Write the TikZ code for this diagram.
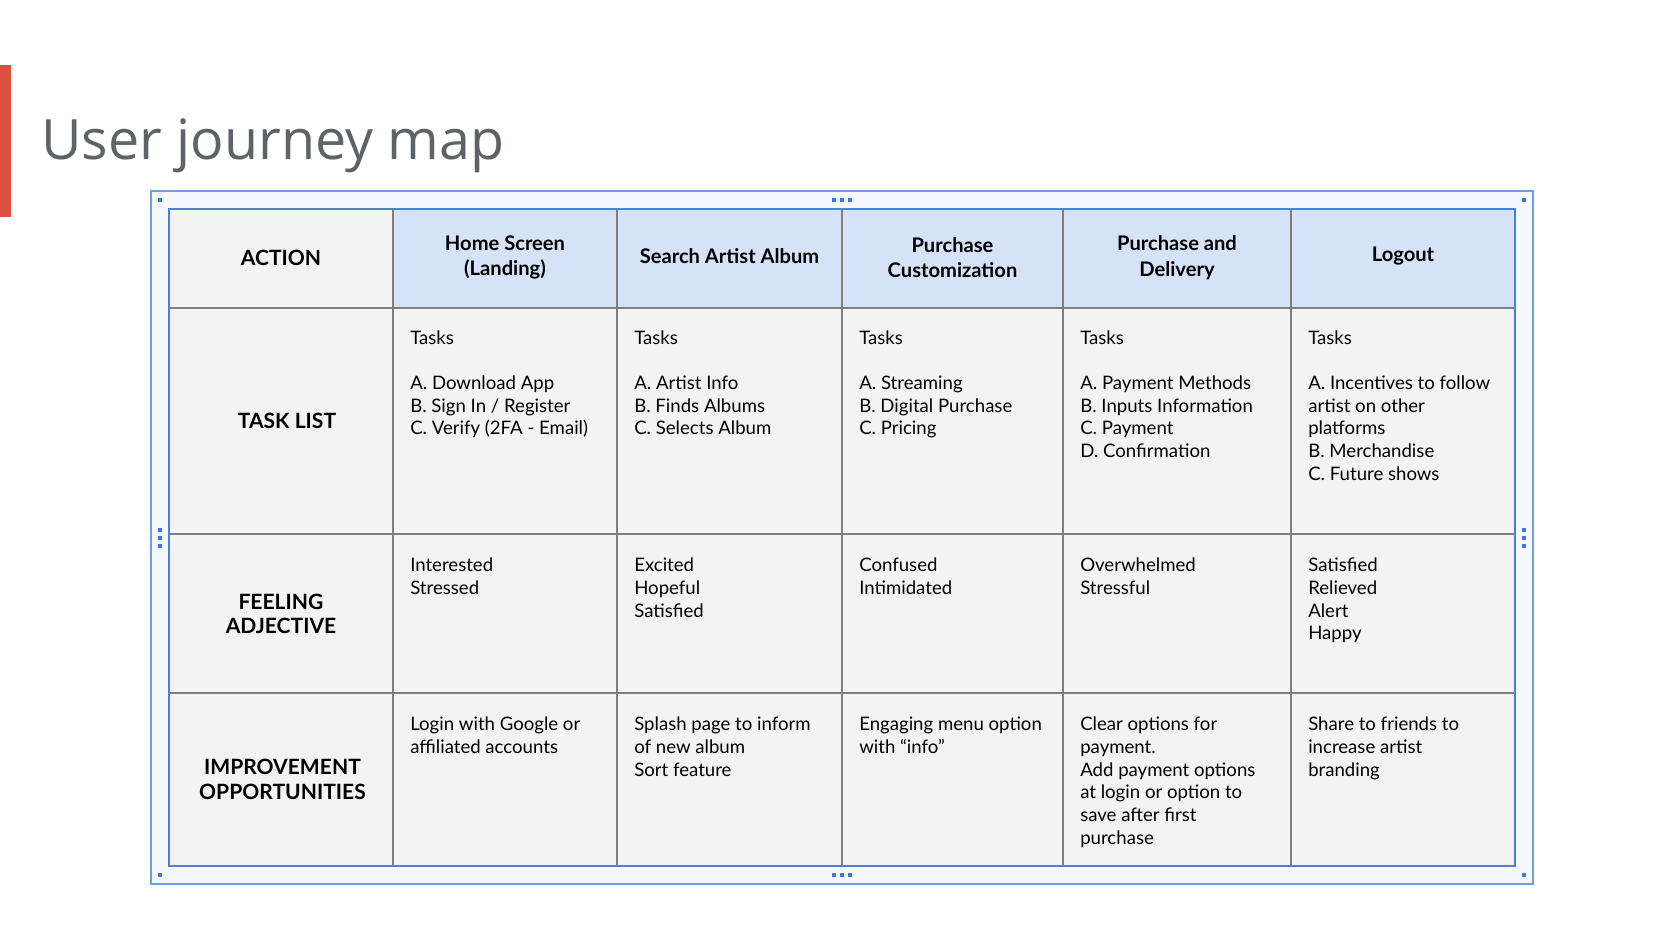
\documentclass[tikz,border=0pt]{standalone}
\usepackage{fontspec}
\setmainfont{Lato}
\newfontfamily\titlefont{Open Sans}
\definecolor{redbar}{HTML}{DB5040}
\definecolor{titlegray}{HTML}{5F6368}
\definecolor{framefill}{HTML}{F5F8FE}
\definecolor{framecol}{HTML}{6D9EEB}
\definecolor{tableblue}{HTML}{4A7FE0}
\definecolor{handleblue}{HTML}{3B78E7}
\definecolor{headfill}{HTML}{D6E2F8}
\definecolor{cellfill}{HTML}{F3F3F3}
\definecolor{gridgray}{HTML}{7F7F7F}
\newcommand\ctext[1]{\parbox[t]{300pt}{\fontsize{13.95pt}{17.0pt}\selectfont\raggedright #1}}
\tikzset{
  cell/.style={anchor=base west, inner sep=0pt},
  rowlab/.style={anchor=center, inner sep=0pt, align=center, font=\bfseries\fontsize{15.8pt}{18.2pt}\selectfont},
  headlab/.style={anchor=center, inner sep=0pt, align=center, font=\bfseries\fontsize{15.1pt}{19.3pt}\selectfont},
  handle/.style={fill=handleblue},
  gridline/.style={draw=gridgray, line width=1.5pt},
}
\begin{document}
\begin{tikzpicture}[x=0.75pt,y=-0.75pt]
\useasboundingbox (0,0) rectangle (1660,950);
\fill[white] (0,0) rectangle (1660,950);
% red bar and title
\fill[redbar] (0,65) rectangle (10.7,217);
\node[anchor=base west, inner sep=0pt, text=titlegray, font=\titlefont\fontsize{41.7pt}{50pt}\selectfont] (title) at (41,159) {User journey map};
% selection frame
\draw[framecol, line width=1.5pt, fill=framefill] (151,191) rectangle (1533,884);
% cells
\fill[cellfill] (168.5,209) rectangle (1515,866);
\fill[headfill] (393,209) rectangle (1515,308);
% grid
\foreach \x in {393,617,842,1063,1291} \draw[gridline] (\x,209) -- (\x,866);
\foreach \y in {308,534,693} \draw[gridline] (168.5,\y) -- (1515,\y);
\draw[tableblue, line width=1.5pt] (168.5,209) rectangle (1515,866);
% handles
\foreach \p in {(160,200),(1524,200),(160,875),(1524,875)} \fill[handle] \p ++(-2,-2) rectangle ++(4,4);
\foreach \x in {834,842,850} {\fill[handle] (\x-2,198) rectangle (\x+2,202); \fill[handle] (\x-2,873) rectangle (\x+2,877);}
\foreach \y in {530,538,546} {\fill[handle] (158,\y-2) rectangle (162,\y+2); \fill[handle] (1522,\y-2) rectangle (1526,\y+2);}
% row labels
\node[rowlab] (lact) at (281,258) {ACTION};
\node[rowlab] (ltask) at (287,421) {TASK LIST};
\node[rowlab] (lfeel) at (281,614) {FEELING\\ADJECTIVE};
\node[rowlab] (limpr) at (282.5,779.5) {IMPROVEMENT\\OPPORTUNITIES};
% headers
\node[headlab] (h1) at (505,257.5) {Home Screen\\(Landing)};
\node[headlab] (h2) at (729.5,256.5) {Search Artist Album};
\node[headlab] (h3) at (952.5,257.5) {Purchase\\Customization};
\node[headlab] (h4) at (1177,257.5) {Purchase and\\Delivery};
\node[headlab] (h5) at (1403,256.5) {Logout};
% task list
\node[cell] (t1) at (410,344) {\ctext{Tasks\\\mbox{}\\A. Download App\\B. Sign In / Register\\C. Verify (2FA - Email)}};
\node[cell] (t2) at (634,344) {\ctext{Tasks\\\mbox{}\\A. Artist Info\\B. Finds Albums\\C. Selects Album}};
\node[cell] (t3) at (859,344) {\ctext{Tasks\\\mbox{}\\A. Streaming\\B. Digital Purchase\\C. Pricing}};
\node[cell] (t4) at (1080,344) {\ctext{Tasks\\\mbox{}\\A. Payment Methods\\B. Inputs Information\\C. Payment\\D. Confirmation}};
\node[cell] (t5) at (1308,344) {\ctext{Tasks\\\mbox{}\\A. Incentives to follow\\artist on other\\platforms\\B. Merchandise\\C. Future shows}};
% feelings
\node[cell] (f1) at (410,571.7) {\ctext{Interested\\Stressed}};
\node[cell] (f2) at (634,571.7) {\ctext{Excited\\Hopeful\\Satisfied}};
\node[cell] (f3) at (859,571.7) {\ctext{Confused\\Intimidated}};
\node[cell] (f4) at (1080,571.7) {\ctext{Overwhelmed\\Stressful}};
\node[cell] (f5) at (1308,571.7) {\ctext{Satisfied\\Relieved\\Alert\\Happy}};
% improvements
\node[cell] (i1) at (410,730.7) {\ctext{Login with Google or\\affiliated accounts}};
\node[cell] (i2) at (634,730.7) {\ctext{Splash page to inform\\of new album\\Sort feature}};
\node[cell] (i3) at (859,730.7) {\ctext{Engaging menu option\\with “info”}};
\node[cell] (i4) at (1080,730.7) {\ctext{Clear options for\\payment.\\Add payment options\\at login or option to\\save after first\\purchase}};
\node[cell] (i5) at (1308,730.7) {\ctext{Share to friends to\\increase artist\\branding}};
\end{tikzpicture}
\end{document}
